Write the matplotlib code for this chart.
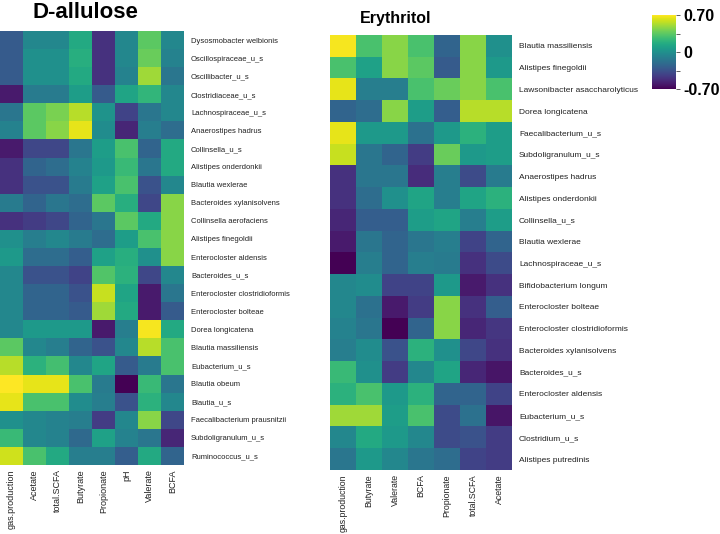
import matplotlib
matplotlib.use("Agg")
import numpy as np
import matplotlib.pyplot as plt

plt.rcParams['font.family'] = ['Liberation Sans', 'DejaVu Sans']

# D-allulose correlations
allulose_cols = ["gas.production", "Acetate", "total.SCFA", "Butyrate",
                 "Propionate", "pH", "Valerate", "BCFA"]
allulose_rows = [
    "Dysosmobacter welbionis", "Oscillospiraceae_u_s", "Oscillibacter_u_s",
    "Clostridiaceae_u_s", "Lachnospiraceae_u_s", "Anaerostipes hadrus",
    "Collinsella_u_s", "Alistipes onderdonkii", "Blautia wexlerae",
    "Bacteroides xylanisolvens", "Collinsella aerofaciens", "Alistipes finegoldii",
    "Enterocloster aldensis", "Bacteroides_u_s", "Enterocloster clostridioformis",
    "Enterocloster bolteae", "Dorea longicatena", "Blautia massiliensis",
    "Eubacterium_u_s", "Blautia obeum", "Blautia_u_s",
    "Faecalibacterium prausnitzii", "Subdoligranulum_u_s", "Ruminococcus_u_s",
]
allulose_values = [
    [-0.30, -0.05, -0.05, 0.15, -0.50, -0.05, 0.35, -0.05],
    [-0.30, 0.00, 0.00, 0.18, -0.50, -0.05, 0.38, -0.08],
    [-0.30, 0.00, 0.00, 0.15, -0.50, -0.08, 0.50, -0.15],
    [-0.60, -0.12, -0.12, 0.08, -0.30, 0.12, 0.22, -0.05],
    [-0.15, 0.35, 0.42, 0.55, 0.02, -0.42, -0.15, -0.05],
    [-0.08, 0.35, 0.45, 0.65, -0.02, -0.55, -0.10, -0.20],
    [-0.60, -0.40, -0.40, -0.15, 0.08, 0.30, -0.25, 0.15],
    [-0.50, -0.25, -0.20, -0.08, 0.05, 0.25, -0.15, 0.15],
    [-0.50, -0.35, -0.35, -0.12, 0.10, 0.30, -0.35, -0.05],
    [-0.12, -0.25, -0.15, -0.20, 0.35, 0.18, -0.40, 0.45],
    [-0.50, -0.45, -0.40, -0.25, -0.15, 0.35, 0.15, 0.45],
    [0.00, -0.10, -0.05, -0.12, -0.20, 0.08, 0.30, 0.45],
    [0.05, -0.20, -0.20, -0.28, 0.10, 0.18, 0.00, 0.45],
    [-0.05, -0.35, -0.35, -0.42, 0.32, 0.20, -0.40, -0.05],
    [-0.05, -0.25, -0.25, -0.35, 0.58, 0.12, -0.60, -0.15],
    [-0.05, -0.25, -0.25, -0.30, 0.50, 0.15, -0.60, -0.30],
    [-0.05, 0.05, 0.05, 0.05, -0.60, -0.10, 0.68, 0.15],
    [0.35, -0.05, -0.10, -0.25, -0.35, -0.05, 0.55, 0.30],
    [0.55, 0.20, 0.28, -0.05, 0.12, -0.30, -0.12, 0.30],
    [0.70, 0.65, 0.65, 0.30, -0.12, -0.70, 0.25, -0.15],
    [0.65, 0.30, 0.30, -0.02, -0.10, -0.35, 0.20, -0.05],
    [0.00, -0.05, -0.08, -0.10, -0.45, -0.05, 0.45, -0.40],
    [0.25, -0.05, -0.08, -0.22, 0.10, -0.08, -0.15, -0.55],
    [0.60, 0.30, 0.15, -0.10, -0.10, -0.28, 0.15, -0.25],
]

# Erythritol correlations
erythritol_cols = ["gas.production", "Butyrate", "Valerate", "BCFA",
                   "Propionate", "total.SCFA", "Acetate"]
erythritol_rows = [
    "Blautia massiliensis", "Alistipes finegoldii", "Lawsonibacter asaccharolyticus",
    "Dorea longicatena", "Faecalibacterium_u_s", "Subdoligranulum_u_s",
    "Anaerostipes hadrus", "Alistipes onderdonkii", "Collinsella_u_s",
    "Blautia wexlerae", "Lachnospiraceae_u_s", "Bifidobacterium longum",
    "Enterocloster bolteae", "Enterocloster clostridioformis",
    "Bacteroides xylanisolvens", "Bacteroides_u_s", "Enterocloster aldensis",
    "Eubacterium_u_s", "Clostridium_u_s", "Alistipes putredinis",
]
erythritol_values = [
    [0.68, 0.30, 0.45, 0.30, -0.25, 0.45, 0.00],
    [0.30, 0.10, 0.45, 0.35, -0.30, 0.45, 0.05],
    [0.65, -0.10, -0.10, 0.30, 0.38, 0.45, 0.30],
    [-0.25, -0.20, 0.45, 0.08, -0.28, 0.55, 0.55],
    [0.65, 0.05, 0.05, -0.18, 0.05, 0.20, 0.08],
    [0.58, -0.15, -0.25, -0.45, 0.38, 0.05, 0.08],
    [-0.50, -0.15, -0.15, -0.52, -0.10, -0.38, -0.12],
    [-0.50, -0.20, 0.00, 0.12, -0.10, 0.12, 0.20],
    [-0.55, -0.28, -0.28, 0.08, 0.12, -0.10, 0.08],
    [-0.60, -0.15, -0.25, -0.15, -0.10, -0.42, -0.25],
    [-0.70, -0.10, -0.25, -0.10, -0.12, -0.50, -0.38],
    [-0.05, -0.02, -0.42, -0.42, 0.05, -0.60, -0.50],
    [-0.05, -0.18, -0.60, -0.45, 0.45, -0.50, -0.28],
    [-0.08, -0.15, -0.70, -0.25, 0.45, -0.55, -0.48],
    [-0.10, -0.02, -0.35, 0.20, 0.00, -0.40, -0.50],
    [0.25, 0.00, -0.45, -0.05, 0.12, -0.55, -0.62],
    [0.20, 0.30, 0.05, 0.20, -0.25, -0.25, -0.42],
    [0.50, 0.50, 0.08, 0.30, -0.38, -0.18, -0.62],
    [-0.05, 0.15, 0.05, -0.05, -0.38, -0.35, -0.45],
    [-0.15, 0.05, -0.05, -0.15, -0.20, -0.42, -0.45],
]

W, H = 720, 534


def px_axes(fig, x0, y0, x1, y1):
    # pixel box (top-left origin) -> figure axes
    return fig.add_axes([x0 / W, 1 - y1 / H, (x1 - x0) / W, (y1 - y0) / H])


def heatmap(ax, values, rows, cols, ysize, xsize):
    im = ax.imshow(np.array(values), cmap="viridis", vmin=-0.7, vmax=0.7,
                   aspect="auto", interpolation="nearest")
    ax.set_xticks(range(len(cols)))
    ax.set_xticklabels(cols, rotation=90, fontsize=xsize, color="#222222")
    ax.set_yticks(range(len(rows)))
    ax.set_yticklabels(rows, fontsize=ysize, color="#222222")
    ax.yaxis.tick_right()
    ax.tick_params(axis="y", length=0, pad=5)
    ax.tick_params(axis="x", length=0, pad=3)
    for s in ax.spines.values():
        s.set_visible(False)
    return im


fig = plt.figure(figsize=(W / 100, H / 100), dpi=100)

ax1 = px_axes(fig, 0, 31, 184, 465)
heatmap(ax1, allulose_values, allulose_rows, allulose_cols, 5.5, 6.5)
fig.text(33 / W, 1 - 12 / H, "D-allulose", fontsize=16, fontweight="bold",
         va="center", ha="left")

ax2 = px_axes(fig, 330, 35, 512, 470)
im = heatmap(ax2, erythritol_values, erythritol_rows, erythritol_cols, 6, 6.3)
fig.text(360 / W, 1 - 18 / H, "Erythritol", fontsize=11.5, fontweight="bold",
         va="center", ha="left")

cax = px_axes(fig, 652, 15, 676, 89)
cb = fig.colorbar(im, cax=cax, ticks=[-0.7, -0.35, 0, 0.35, 0.7])
cb.ax.set_yticklabels(["-0.70", "", "0", "", "0.70"], fontsize=11.5, fontweight="bold")
cb.ax.tick_params(length=3, width=0.6, pad=2, color="#444444")
cb.outline.set_visible(False)

fig.savefig("out.png", dpi=100)
